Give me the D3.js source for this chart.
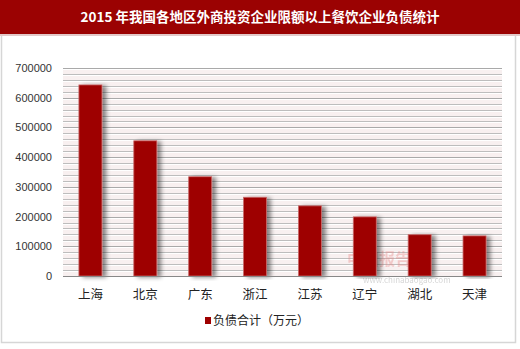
<!DOCTYPE html>
<html>
<head>
<meta charset="utf-8">
<script src="https://cdn.jsdelivr.net/npm/d3@7"></script>
<style>
  body { margin: 0; background: #fff; }
  text { font-family: "Noto Sans CJK SC", "Liberation Sans", sans-serif; }
</style>
</head>
<body>
<div id="container"></div>
<script>
// data
let regions = ["上海", "北京", "广东", "浙江", "江苏", "辽宁", "湖北", "天津"];
let debt = [643000, 455000, 334000, 265000, 236000, 199000, 139000, 135000];
let yTicks = [0, 100000, 200000, 300000, 400000, 500000, 600000, 700000];
let titleText = "2015 年我国各地区外商投资企业限额以上餐饮企业负债统计";
let legendText = "负债合计（万元）";

let w = 520;
let h = 349;
let plotLeft = 63, plotRight = 502, plotTop = 68, plotBottom = 276;

let viz = d3.select("#container")
  .append("svg")
    .attr("width", w)
    .attr("height", h)
;

let defs = viz.append("defs");
let shadow = defs.append("filter").attr("id", "shadow")
  .attr("x", "-20%").attr("y", "-5%").attr("width", "160%").attr("height", "110%");
shadow.append("feDropShadow")
  .attr("dx", 4).attr("dy", 1).attr("stdDeviation", 2)
  .attr("flood-color", "#000").attr("flood-opacity", 0.45);

// outer frame
viz.append("rect")
  .attr("x", 1.5).attr("y", 1.5).attr("width", w - 6).attr("height", h - 8)
  .attr("fill", "#fff").attr("stroke", "#d6d6d6").attr("stroke-width", 1.5);

// title band
viz.append("rect")
  .attr("x", 0).attr("y", 0).attr("width", w).attr("height", 34)
  .attr("fill", "#9b0202");
viz.append("rect")
  .attr("x", 0).attr("y", 34).attr("width", w).attr("height", 2)
  .attr("fill", "#e2c9c9");
viz.append("text")
  .text(titleText)
  .attr("x", w / 2).attr("y", 22)
  .attr("text-anchor", "middle")
  .attr("fill", "#fff")
  .attr("font-size", "13.5px")
  .attr("font-weight", "bold");

let xScale = d3.scaleBand().domain(regions).range([plotLeft, plotRight]).paddingInner(0.58).paddingOuter(0.29);
let yScale = d3.scaleLinear().domain([0, 700000]).range([plotBottom, plotTop]);

// plot background
viz.append("rect")
  .attr("x", plotLeft).attr("y", plotTop).attr("width", plotRight - plotLeft).attr("height", plotBottom - plotTop)
  .attr("fill", "#f8f0f0");

// grid lines every 20000
let gridVals = d3.range(20000, 700001, 20000);
viz.append("g").selectAll("line").data(gridVals).enter()
  .append("line")
    .attr("x1", plotLeft).attr("x2", plotRight)
    .attr("y1", function(d){ return Math.round(yScale(d)) + 0.5; })
    .attr("y2", function(d){ return Math.round(yScale(d)) + 0.5; })
    .attr("stroke", function(d){ return d % 100000 == 0 ? "#a9a9a9" : "#bdbdbd"; })
    .attr("stroke-width", 1);
viz.append("g").selectAll("line").data(gridVals).enter()
  .append("line")
    .attr("x1", plotLeft).attr("x2", plotRight)
    .attr("y1", function(d){ return Math.round(yScale(d)) + 1.5; })
    .attr("y2", function(d){ return Math.round(yScale(d)) + 1.5; })
    .attr("stroke", "#ffffff")
    .attr("stroke-width", 1);

// y axis labels
let yAxis = d3.axisLeft(yScale).tickValues(yTicks).tickSize(0).tickPadding(11).tickFormat(d3.format("d"));
let yG = viz.append("g").attr("transform", "translate(" + plotLeft + ",0)").call(yAxis);
yG.select(".domain").remove();
yG.selectAll("text").attr("font-size", "11px").attr("fill", "#333")
  .style("font-family", "'Liberation Sans', sans-serif");

// watermark
let wm = viz.append("g").attr("opacity", 0.35);
wm.append("text").text("中国报告网").attr("x", 347).attr("y", 265)
  .attr("font-size", "16px").attr("font-weight", "bold").attr("fill", "#e88080");
wm.append("text").text("www.chinabaogao.com").attr("x", 363).attr("y", 283)
  .attr("font-size", "8px").attr("fill", "#888");

// bars
viz.append("g").selectAll("rect").data(debt).enter()
  .append("rect")
    .attr("x", function(d, i){ return xScale(regions[i]); })
    .attr("y", function(d){ return yScale(d); })
    .attr("width", xScale.bandwidth())
    .attr("height", function(d){ return plotBottom - yScale(d); })
    .attr("fill", "#9e0000")
    .attr("stroke", "#c96a6a")
    .attr("stroke-width", 0.8)
    .attr("filter", "url(#shadow)");

// x axis
let xAxis = d3.axisBottom(xScale).tickSize(0).tickPadding(14);
let xG = viz.append("g").attr("transform", "translate(0," + plotBottom + ")").call(xAxis);
xG.select(".domain").attr("stroke", "#888").attr("d", "M" + plotLeft + ",0.5H" + plotRight);
xG.selectAll("text").attr("font-size", "12.5px").attr("fill", "#222");

// legend
viz.append("rect")
  .attr("x", 205).attr("y", 317).attr("width", 6).attr("height", 7)
  .attr("fill", "#9e0000");
viz.append("text")
  .text(legendText)
  .attr("x", 213).attr("y", 325)
  .attr("font-size", "12px")
  .attr("fill", "#222");
</script>
</body>
</html>
